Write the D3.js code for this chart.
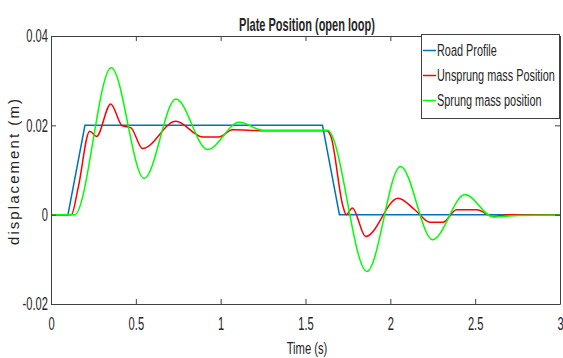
<!DOCTYPE html>
<html>
<head>
<meta charset="utf-8">
<script src="https://cdn.jsdelivr.net/npm/d3@7"></script>
<style>
  body { margin: 0; background: #fff; }
  text { font-family: "Liberation Sans", Arial, sans-serif; fill: #262626; }
</style>
</head>
<body>
<svg id="vis" width="563" height="358"></svg>
<script>
// data
const xTicks = [0, 0.5, 1, 1.5, 2, 2.5, 3];
const yTicks = [-0.02, 0, 0.02, 0.04];
const seriesNames = ["Road Profile", "Unsprung mass Position", "Sprung mass position"];
const seriesColors = ["#0072BD", "#FF0000", "#00FF00"];

const road = [[0,0],[0.1,0],[0.2,0.02],[1.6,0.02],[1.7,0],[3,0]];
const unsprung = [[0,0],[0.12,0],[0.16,0.006],[0.228,0.0187],[0.268,0.0175],[0.352,0.0248],
  [0.42,0.0199],[0.47,0.0195],[0.54,0.0148],[0.736,0.0209],[0.894,0.0174],[0.99,0.0174],
  [1.07,0.019],[1.25,0.0188],[1.625,0.0188],[1.65,0.0175],[1.72,0.002],[1.74,0],
  [1.776,0.0015],[1.855,-0.0049],[2.046,0.0037],[2.144,0.0011],[2.233,-0.0017],[2.31,-0.0017],
  [2.39,0.0011],[2.508,0.0011],[2.607,-0.0004],[2.7,0],[3,0]];
const sprung = [[0,0],[0.14,0],[0.355,0.0329],[0.549,0.0081],[0.736,0.0259],[0.923,0.0146],
  [1.11,0.0207],[1.25,0.0189],[1.63,0.0189],[1.862,-0.0127],[2.06,0.0108],[2.249,-0.0056],
  [2.44,0.0045],[2.607,-0.0005],[2.75,-0.0002],[3,-0.0001]];

const W = 563, H = 358;
const m = {left: 51, right: 3, top: 36, bottom: 54};
const svg = d3.select("#vis");

const x = d3.scaleLinear().domain([0, 3]).range([m.left, W - m.right]);
const y = d3.scaleLinear().domain([-0.02, 0.04]).range([H - m.bottom, m.top]);

const fmt = d => d === 0 ? "0" : String(d);

// squeeze text horizontally (narrow font look) with a scale transform
const condense = (sel, k) => sel.each(function(){
  const t = d3.select(this);
  const tx = +(t.attr("x") || 0);
  t.attr("x", tx / k).attr("transform", `scale(${k},1)`);
});

const clip = svg.append("clipPath").attr("id", "c").append("rect")
  .attr("x", m.left).attr("y", m.top).attr("width", W - m.right - m.left).attr("height", H - m.bottom - m.top);

const line = d3.line().x(d => x(d[0])).y(d => y(d[1]));
const smooth = d3.line().x(d => x(d[0])).y(d => y(d[1])).curve(d3.curveMonotoneX);

const g = svg.append("g").attr("clip-path", "url(#c)");
g.append("path").attr("d", line(road)).attr("fill", "none").attr("stroke", seriesColors[0]).attr("stroke-width", 1.5);
g.append("path").attr("d", smooth(unsprung)).attr("fill", "none").attr("stroke", seriesColors[1]).attr("stroke-width", 1.5);
g.append("path").attr("d", smooth(sprung)).attr("fill", "none").attr("stroke", seriesColors[2]).attr("stroke-width", 1.5);

// axes, box with inward ticks all round
const tickLen = 5;
const xb = svg.append("g").attr("transform", `translate(0,${H - m.bottom})`)
  .call(d3.axisBottom(x).tickValues(xTicks).tickSizeInner(-tickLen).tickSizeOuter(0).tickPadding(13).tickFormat(d3.format("")));
const xt = svg.append("g").attr("transform", `translate(0,${m.top})`)
  .call(d3.axisTop(x).tickValues(xTicks).tickSizeInner(-tickLen).tickSizeOuter(0).tickFormat(""));
const yl = svg.append("g").attr("transform", `translate(${m.left},0)`)
  .call(d3.axisLeft(y).tickValues(yTicks).tickSizeInner(-tickLen).tickSizeOuter(0).tickPadding(3).tickFormat(fmt));
const yr = svg.append("g").attr("transform", `translate(${W - m.right},0)`)
  .call(d3.axisRight(y).tickValues(yTicks).tickSizeInner(-tickLen).tickSizeOuter(0).tickFormat(""));

[xb, xt, yl, yr].forEach(a => {
  a.selectAll("path.domain").attr("stroke", "#404040");
  a.selectAll(".tick line").attr("stroke", "#404040");
  a.selectAll("text").style("font-family", null).attr("font-size", 18).attr("fill", "#333");
  condense(a.selectAll("text"), 0.62);
});

// title and labels
svg.append("g").attr("transform", "translate(307,31)")
  .append("text").attr("text-anchor", "middle")
  .attr("font-size", 19).attr("font-weight", "bold").text("Plate Position (open loop)")
  .call(condense, 0.58);
svg.append("g").attr("transform", "translate(307,354)")
  .append("text").attr("text-anchor", "middle")
  .attr("font-size", 17).text("Time (s)")
  .call(condense, 0.66);
svg.append("text").attr("transform", `translate(19,172) rotate(-90)`).attr("text-anchor", "middle")
  .attr("font-size", 15).attr("fill", "#333")
  .attr("textLength", 146).attr("lengthAdjust", "spacing").text("displacement (m)");

// legend
const lg = svg.append("g");
lg.append("rect").attr("x", 421.5).attr("y", 34.5).attr("width", 138).attr("height", 84)
  .attr("fill", "#fff").attr("stroke", "#404040").attr("stroke-width", 1);
seriesNames.forEach((name, i) => {
  const ly = 50.5 + i * 25;
  lg.append("line").attr("x1", 423).attr("x2", 436).attr("y1", ly).attr("y2", ly)
    .attr("stroke", seriesColors[i]).attr("stroke-width", 1.5);
  lg.append("g").attr("transform", `translate(437,${ly + 5.5})`)
    .append("text").attr("font-size", 16).text(name)
    .call(condense, 0.68);
});
</script>
</body>
</html>
